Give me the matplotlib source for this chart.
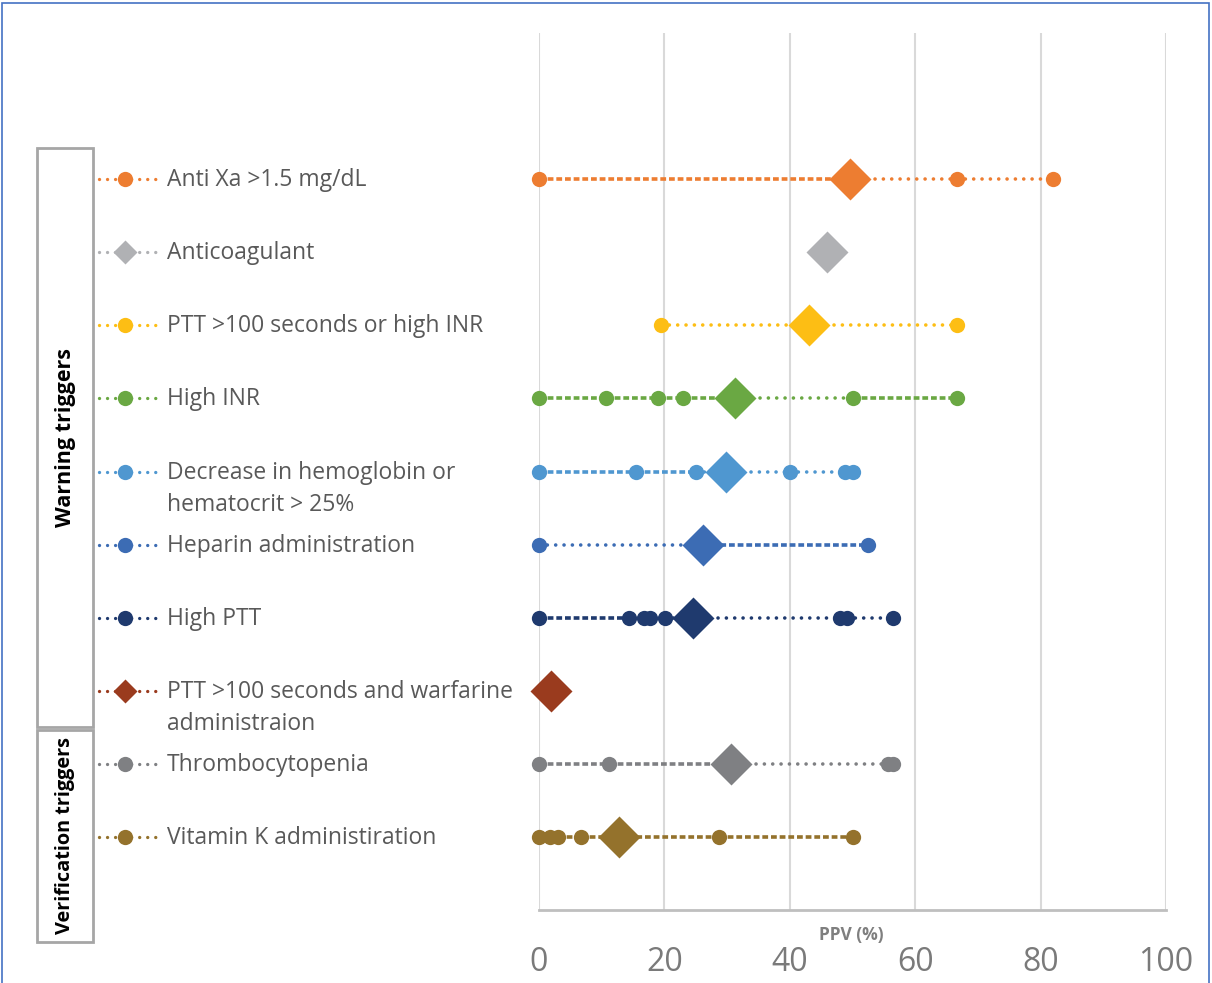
import matplotlib
matplotlib.use("Agg")
import matplotlib.pyplot as plt
import matplotlib.transforms as mtrans
from matplotlib.patches import Rectangle
from matplotlib.lines import Line2D

# ---------------- data ----------------
labels = [
    "Anti Xa >1.5 mg/dL",
    "Anticoagulant",
    "PTT >100 seconds or high INR",
    "High INR",
    "Decrease in hemoglobin or\nhematocrit > 25%",
    "Heparin administration",
    "High PTT",
    "PTT >100 seconds and warfarine\nadministraion",
    "Thrombocytopenia",
    "Vitamin K administiration",
]
study_ppv = [
    [0, 66.7, 82.0],
    [],
    [19.4, 66.7],
    [0, 10.7, 18.9, 23.0, 50.0, 66.7],
    [0, 15.4, 25.0, 40.0, 48.8, 50.1],
    [0, 52.5],
    [0, 14.4, 16.7, 17.7, 20.1, 48.0, 49.1, 56.4],
    [],
    [0, 11.1, 55.7, 56.5],
    [0, 1.8, 3.0, 6.7, 28.7, 50.1],
]
pooled_ppv = [49.6, 46.0, 43.0, 31.3, 29.9, 26.2, 24.6, 1.9, 30.7, 12.8]
colors = ["#ED7D31", "#B0B1B4", "#FDBE14", "#6AA843", "#4F97D0",
          "#3C6CB4", "#1F3A6E", "#9A3B1E", "#7F8083", "#94722C"]
legend_marker = ["o", "D", "o", "o", "o", "o", "o", "D", "o", "o"]
group_names = ["Warning triggers", "Verification triggers"]
xticks = [0, 20, 40, 60, 80, 100]

# style: dense (True) / sparse (False) per segment between sorted values
dense = [
    [True, False, False],
    [],
    [False, False],
    [True, True, True, True, False, True],
    [True, True, False, False, False, False],
    [False, True],
    [True, True, True, True, False, False, False, False],
    [],
    [True, True, False, False],
    [True, True, True, True, True, True],
]

W, H = 1212, 983
fig = plt.figure(figsize=(W / 100, H / 100), dpi=100)
FONT = "Open Sans"
plt.rcParams["font.family"] = [FONT, "DejaVu Sans"]

x0, x1, yt, yb = 539, 1166, 33, 910
ax = fig.add_axes([x0 / W, 1 - yb / H, (x1 - x0) / W, (yb - yt) / H])
ax.set_xlim(0, 100)
ax.set_ylim(10, -2)
for s in ["left", "right", "top"]:
    ax.spines[s].set_visible(False)
ax.spines["bottom"].set_color("#BFBFBF")
ax.spines["bottom"].set_linewidth(2)
ax.set_yticks([])
ax.set_xticks(xticks)
ax.tick_params(axis="x", length=0, pad=26, labelsize=23, labelcolor="#7A7A7A")
ax.xaxis.grid(True, color="#D9D9D9", lw=1.5)
ax.set_axisbelow(True)

sparse_ls = (0, (0.01, 2.3))
dense_ls = (0, (1.6, 0.8))

for i, (pts, m, c) in enumerate(zip(study_ppv, pooled_ppv, colors)):
    vals = sorted(pts + [m])
    if len(vals) > 1:
        for k in range(len(vals) - 1):
            d = dense[i][k]
            ax.plot([vals[k], vals[k + 1]], [i, i], color=c, lw=2.6,
                    linestyle=dense_ls if d else sparse_ls,
                    dash_capstyle="butt" if d else "round", zorder=2)
    if pts:
        ax.plot(pts, [i] * len(pts), "o", color=c, ms=11, mec="none", zorder=3,
                clip_on=False)
    ax.plot([m], [i], "D", color=c, ms=21, mec="none", zorder=4, clip_on=False)

# left labels / legend icons
yt_tr = ax.get_yaxis_transform()
def ax_x(px):
    return (px - x0) / (x1 - x0)

lab_tr = mtrans.blended_transform_factory(fig.transFigure, ax.transData)
for i, (lab, c, mk) in enumerate(zip(labels, colors, legend_marker)):
    ln = Line2D([ax_x(99), ax_x(160)], [i, i], transform=yt_tr, color=c, lw=2.4,
                linestyle=(0, (0.01, 2.4)), dash_capstyle="round", clip_on=False)
    ax.add_line(ln)
    ms = 11 if mk == "o" else 12
    mkl = Line2D([ax_x(125)], [i], transform=yt_tr, marker=mk, color=c, ms=ms,
                 mec="none", linestyle="none", clip_on=False)
    ax.add_line(mkl)
    for j, p in enumerate(lab.split("\n")):
        fig.text(167 / W, i, p, fontsize=16.5, color="#595959", va="center",
                 ha="left",
                 transform=lab_tr + mtrans.Affine2D().translate(0, -1 - 32.5 * j))

# group boxes
for (ytop, ybot), name, fs in zip([(148, 727), (730, 942)], group_names, [15.5, 14.3]):
    r = Rectangle((37 / W, 1 - ybot / H), (93 - 37) / W, (ybot - ytop) / H,
                  transform=fig.transFigure, fill=False, ec="#A6A6A6", lw=2)
    fig.add_artist(r)
    fig.text(65 / W, 1 - (ytop + ybot) / 2 / H, name, rotation=90, fontsize=fs,
             fontweight="bold", color="black", ha="center", va="center")

fig.text(851 / W, 1 - 935 / H, "PPV (%)", fontsize=12.5, fontweight="bold",
         color="#7F7F7F", ha="center", va="center")

# outer border
fig.add_artist(Rectangle((2.5 / W, -0.01), (W - 6) / W, 1 - 2.5 / H + 0.01,
                         transform=fig.transFigure, fill=False, ec="#4472C4", lw=1.2))

fig.savefig("out.png", dpi=100)
